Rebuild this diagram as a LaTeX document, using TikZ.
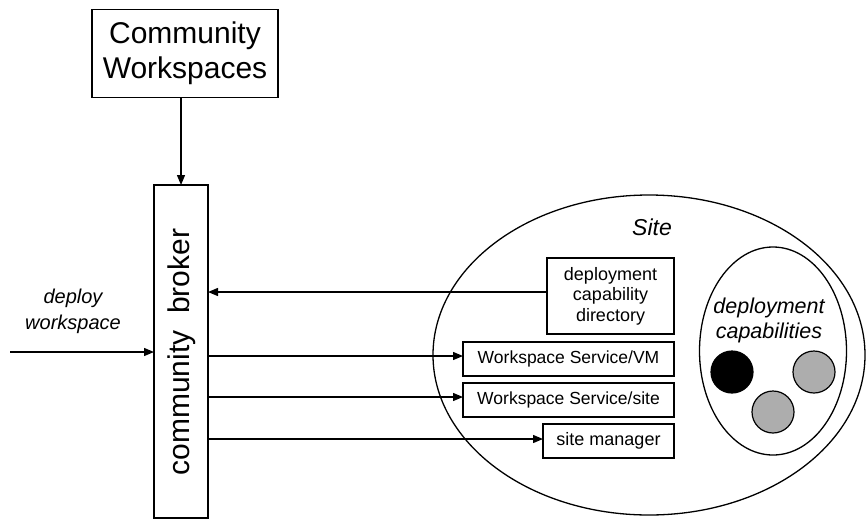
\documentclass[tikz,border=0pt]{standalone}
\usepackage{fontspec}
\setmainfont{Liberation Sans}
\usetikzlibrary{arrows.meta,shapes.geometric}
\begin{document}
\begin{tikzpicture}[x=1pt,y=-1pt,
  every node/.style={inner sep=0pt, outer sep=0pt},
  box/.style={draw=black, line width=1.4pt, fill=white, align=center},
  conn/.style={line width=1.3pt, -{Triangle[length=10pt,width=8pt]}},
  oval/.style={draw=black, line width=1.3pt, ellipse},
  dot/.style={draw=black, line width=1.2pt, circle, minimum size=42pt}
]
\useasboundingbox (0,0) rectangle (866,520);
% site ellipses
\node[oval, minimum width=432pt, minimum height=320pt] (site) at (649,355) {};
\node[font=\fontsize{23}{27}\selectfont\itshape] (sitelbl) at (652,227) {Site};
\node[oval, minimum width=147pt, minimum height=208pt] (caps) at (773,351) {};
\node[font=\fontsize{21.5}{25}\selectfont\itshape, align=center] (capslbl) at (769,320) {deployment\\capabilities};
\node[dot, fill=black] (c1) at (732,372) {};
\node[dot, fill=black!32] (c2) at (814,372) {};
\node[dot, fill=black!32] (c3) at (773,412) {};
% boxes
\node[box, minimum width=186pt, minimum height=88pt, font=\fontsize{30}{35}\selectfont] (cw) at (185,53.5) {Community\\Workspaces};
\node[box, minimum width=54pt, minimum height=333pt] (broker) at (181,351.5) {};
\node[rotate=90, font=\fontsize{30}{35}\selectfont] (brokerlbl) at (182,352) {community\ \ broker};
\node[box, minimum width=127pt, minimum height=76pt, font=\fontsize{18}{20.5}\selectfont] (dir) at (610.5,296) {deployment\\capability\\directory};
\node[box, minimum width=211pt, minimum height=34pt, font=\fontsize{17.5}{20}\selectfont] (vm) at (568.5,359) {Workspace Service/VM};
\node[box, minimum width=211pt, minimum height=34pt, font=\fontsize{17.5}{20}\selectfont] (ws) at (568.5,400) {Workspace Service/site};
\node[box, minimum width=131pt, minimum height=34pt, font=\fontsize{18}{20}\selectfont] (mgr) at (608.5,441) {site manager};
% deploy workspace
\node[font=\fontsize{20}{26}\selectfont\itshape, align=center] (dw) at (73,311) {deploy\\workspace};
\coordinate (start) at (10,352);
% connectors
\draw[conn] (broker.north |- cw.south) -- (broker.north);
\draw[conn] (start) -- (start -| broker.west);
\draw[conn] ([yshift=4pt]dir.west) -- ([yshift=4pt]dir.west -| broker.east);
\draw[conn] ([yshift=3pt]vm.west -| broker.east) -- ([yshift=3pt]vm.west);
\draw[conn] ([yshift=3pt]ws.west -| broker.east) -- ([yshift=3pt]ws.west);
\draw[conn] ([yshift=2pt]mgr.west -| broker.east) -- ([yshift=2pt]mgr.west);
\end{tikzpicture}
\end{document}
